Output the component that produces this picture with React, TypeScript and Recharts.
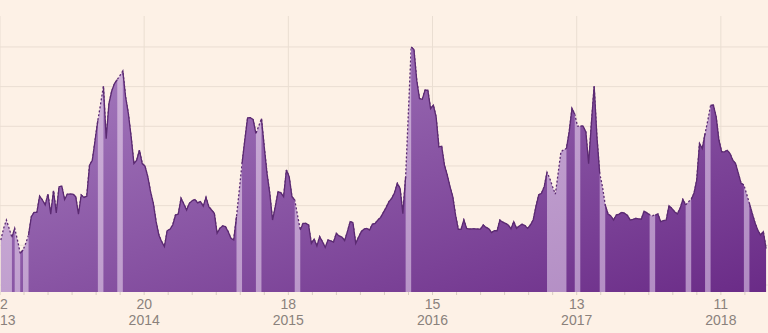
import { Area, AreaChart, CartesianGrid, XAxis, YAxis } from 'recharts'

// weekly search interest (0-100), one value per week, left to right
const interest = [
  18.9, 23.8, 27.3, 23.8, 20.0, 23.8, 18.9, 13.3, 14.7, 17.5, 21.0, 28.7, 30.5,
  30.5, 37.3, 35.7, 33.6, 38.2, 29.8, 39.6, 30.3, 41.3, 41.5, 35.9, 38.2, 38.2,
  38.2, 37.1, 29.8, 37.8, 36.8, 37.3, 50.3, 52.4, 60.8, 69.2, 76.2, 83.5, 61.5,
  76.2, 81.5, 84.6, 86.3, 88.1, 89.9, 79.0, 72.0, 62.2, 51.0, 52.4, 56.6, 51.0,
  49.9, 45.5, 39.2, 34.3, 26.6, 21.0, 18.2, 16.1, 22.8, 23.4, 25.2, 29.4, 29.8,
  36.4, 34.0, 31.5, 34.3, 35.4, 35.9, 34.5, 35.0, 33.1, 36.8, 32.9, 31.5, 30.1,
  21.7, 23.8, 24.8, 24.5, 22.4, 19.6, 18.9, 28.7, 39.9, 51.0, 60.8, 70.2, 70.3,
  69.5, 63.6, 66.7, 69.9, 58.0, 46.9, 38.5, 27.3, 32.9, 39.2, 38.7, 37.1, 48.3,
  45.5, 37.1, 35.7, 29.4, 23.1, 25.9, 25.9, 25.2, 17.5, 19.3, 16.4, 20.3, 18.2,
  15.8, 18.9, 18.5, 18.0, 21.7, 20.6, 20.1, 18.6, 22.4, 26.6, 26.2, 17.5, 20.0,
  22.4, 23.5, 23.8, 23.1, 25.5, 25.9, 27.3, 28.4, 30.5, 32.6, 35.0, 36.4, 38.7,
  42.7, 40.6, 30.0, 45.5, 72.7, 100, 98.9, 86.0, 78.3, 78.0, 81.8, 81.8, 74.1,
  75.5, 70.6, 58.0, 58.3, 50.3, 46.2, 41.3, 37.1, 29.4, 23.4, 23.4, 27.3, 23.8,
  23.5, 23.6, 23.6, 23.5, 23.5, 25.2, 24.2, 23.6, 22.0, 22.8, 22.8, 27.3, 26.4,
  25.9, 25.2, 23.6, 26.6, 23.8, 24.8, 25.5, 25.0, 23.8, 25.2, 27.3, 32.9, 37.8,
  38.5, 41.3, 47.3, 44.8, 41.3, 38.2, 46.9, 55.9, 56.9, 57.3, 64.3, 74.1, 71.7,
  66.7, 66.7, 66.7, 64.3, 51.0, 67.8, 83.5, 62.2, 46.9, 41.3, 33.6, 29.8, 29.0,
  27.3, 29.4, 29.8, 30.5, 30.1, 29.2, 27.3, 27.6, 28.0, 27.8, 27.6, 31.0, 30.3,
  29.5, 29.1, 29.4, 29.8, 26.6, 27.0, 27.3, 33.3, 32.2, 30.8, 29.8, 32.2, 35.9,
  33.6, 35.0, 35.9, 38.5, 44.1, 59.4, 57.3, 63.6, 69.2, 75.5, 75.5, 70.6, 60.8,
  55.9, 55.9, 56.6, 55.2, 52.4, 51.0, 46.9, 42.7, 42.0, 38.2, 34.3, 30.1, 26.2,
  23.1, 21.0, 22.4, 15.4,
]

// weeks shown as pale bands with a dotted line
const bandWeeks = [
  0, 1, 2, 3, 6, 9, 36, 43, 86, 93, 107, 147, 198, 199, 200, 201, 202, 203,
  208, 217, 235, 248, 255, 269,
]

const tickDays = ['22', '20', '18', '15', '13', '11']
const tickYears = ['2013', '2014', '2015', '2016', '2017', '2018']
const firstTick = -0.3
const weeksPerYear = 52
const minorPerYear = 6

const gridValues = [0, 1, 2, 3, 4, 5, 6].map((k) => (k * 100) / 6)
const yDomain = [-2.94, 113]
const xDomain = [firstTick, firstTick + interest.length]

const data = interest.map((v, week) => ({
  week,
  all: v,
  main: bandWeeks.includes(week) ? null : v,
}))

const majorTicks = tickDays.map((_, i) => firstTick + i * weeksPerYear)
const allTicks = Array.from(
  { length: tickDays.length * minorPerYear },
  (_, j) => firstTick + (j * weeksPerYear) / minorPerYear,
)

const LINE = '#5b2a72'
const TEXT = '#8a817c'

function YearTick(props: any) {
  const { x, y, payload } = props
  const j = Math.round(((payload.value - firstTick) / weeksPerYear) * minorPerYear)
  if (j % minorPerYear !== 0) return <g />
  const k = j / minorPerYear
  const style = { fontFamily: '"Liberation Sans", Arial, sans-serif', fontSize: 14, fill: TEXT }
  return (
    <g>
      <text x={x} y={y + 12} textAnchor="middle" style={style}>
        {tickDays[k]}
      </text>
      <text x={x} y={y + 28} textAnchor="middle" style={style}>
        {tickYears[k]}
      </text>
    </g>
  )
}

export default function App() {
  const vertical = ({ xAxis, offset }: any) => {
    if (xAxis && typeof xAxis.scale === 'function') return majorTicks.map((t) => xAxis.scale(t))
    return majorTicks.map(
      (t) => offset.left + ((t - xDomain[0]) / (xDomain[1] - xDomain[0])) * offset.width,
    )
  }
  const horizontal = ({ yAxis, offset }: any) => {
    if (yAxis && typeof yAxis.scale === 'function') return gridValues.map((v) => yAxis.scale(v))
    return gridValues.map(
      (v) => offset.top + ((yDomain[1] - v) / (yDomain[1] - yDomain[0])) * offset.height,
    )
  }

  return (
    <div style={{ position: 'absolute', left: 0, top: 0, width: 768, height: 333, background: '#fdf1e6' }}>
      <AreaChart width={768} height={333} data={data} margin={{ top: 16, right: 0, bottom: 0, left: 0 }}>
        <defs>
          <linearGradient id="mainFill" x1="0" y1="0" x2="1" y2="1">
            <stop offset="0%" stopColor="#a87fc1" />
            <stop offset="100%" stopColor="#6a2b87" />
          </linearGradient>
          <linearGradient id="bandFill" x1="0" y1="0" x2="1" y2="1">
            <stop offset="0%" stopColor="#d2b6dc" />
            <stop offset="100%" stopColor="#b08ac2" />
          </linearGradient>
        </defs>
        <CartesianGrid
          stroke="#eaded2"
          verticalCoordinatesGenerator={vertical}
          horizontalCoordinatesGenerator={horizontal}
        />
        <XAxis
          dataKey="week"
          type="number"
          domain={xDomain}
          ticks={allTicks}
          interval={0}
          height={41}
          axisLine={false}
          tickSize={3}
          tickLine={{ stroke: '#d8cdc2' }}
          tick={<YearTick />}
        />
        <YAxis hide type="number" domain={yDomain} ticks={gridValues} />
        <Area
          type="linear"
          dataKey="all"
          stroke={LINE}
          strokeWidth={1.3}
          strokeDasharray="2 2"
          fill="url(#bandFill)"
          fillOpacity={1}
          baseValue="dataMin"
          connectNulls
          dot={false}
          activeDot={false}
          isAnimationActive={false}
        />
        <Area
          type="linear"
          dataKey="main"
          stroke={LINE}
          strokeWidth={1.3}
          fill="url(#mainFill)"
          fillOpacity={1}
          baseValue="dataMin"
          dot={false}
          activeDot={false}
          isAnimationActive={false}
        />
      </AreaChart>
    </div>
  )
}
